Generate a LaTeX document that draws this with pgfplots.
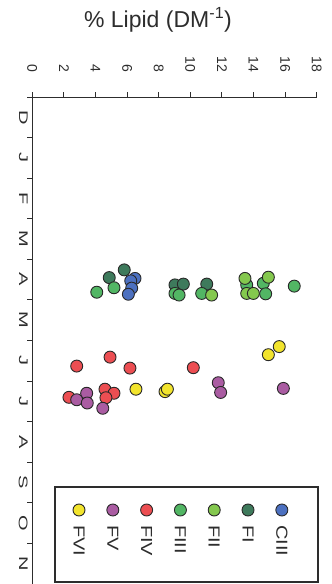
\documentclass[border=0pt]{standalone}
\usepackage{fontspec}
\setmainfont{Liberation Sans}
\usepackage{graphicx}
\usepackage{pgfplots}
\pgfplotsset{compat=1.18}
\definecolor{axiscol}{RGB}{45,45,45}
\definecolor{edgecol}{RGB}{40,40,40}
\definecolor{cFVI}{RGB}{242,228,45}
\definecolor{cFV}{RGB}{170,92,162}
\definecolor{cFIV}{RGB}{236,78,82}
\definecolor{cFIII}{RGB}{82,182,100}
\definecolor{cFII}{RGB}{132,200,78}
\definecolor{cFI}{RGB}{62,122,92}
\definecolor{cCIII}{RGB}{76,112,192}
\pgfplotsset{
  dot/.style={only marks, mark=*, mark size=6bp,
    mark options={draw=edgecol, line width=0.9bp, fill=#1}},
}
\newcommand{\sx}[2]{\scalebox{#1}[1]{#2}}
\begin{document}
\begin{tikzpicture}
\begin{axis}[
  name=main,
  scale only axis, width=284.4bp, height=487bp,
  xmin=0, xmax=18, ymin=0, ymax=12, y dir=reverse,
  axis x line*=top, axis y line*=left,
  axis line style={line width=1bp, draw=axiscol},
  tick style={line width=0.9bp, draw=axiscol},
  tick align=outside, major tick length=5bp,
  xtick={0,2,...,18},
  /pgf/number format/assume math mode=true,
  xticklabel style={rotate=-90, anchor=east, inner sep=0pt,
    font=\fontsize{14bp}{16bp}\selectfont, text=axiscol},
  xticklabel shift=20bp,
  ytick={0,1,...,12}, yticklabels={},
  extra y ticks={0.5,1.5,...,11.5},
  extra y tick labels={\sx{1.6}{D},\sx{1.6}{J},\sx{1.6}{F},\sx{1.6}{M},\sx{1.6}{A},\sx{1.6}{M},\sx{1.6}{J},\sx{1.6}{J},\sx{1.6}{A},\sx{1.6}{S},\sx{1.6}{O},\sx{1.6}{N}},
  extra y tick style={major tick length=0pt,
    yticklabel style={rotate=-90, anchor=north, inner sep=0pt,
      font=\fontsize{12.5bp}{14bp}\selectfont, text=axiscol}},
  yticklabel shift=4.5bp,
  title={\% Lipid (DM\textsuperscript{-1})},
  title style={at={(0.442,1)}, anchor=base, yshift=63.7bp,
    font=\fontsize{23bp}{26bp}\selectfont, text=axiscol, inner sep=0pt},
]
% FI
\addplot[dot=cFI] coordinates {
 (4.87,4.45) (5.82,4.26) (9.03,4.63) (9.56,4.61) (11.04,4.61)};
% FIII
\addplot[dot=cFIII] coordinates {
 (4.08,4.81) (5.17,4.70) (9.03,4.84) (9.29,4.88) (10.72,4.84) (13.57,4.63) (14.62,4.59) (14.77,4.85) (16.58,4.66)};
% FII
\addplot[dot=cFII] coordinates {
 (11.35,4.88) (13.46,4.47) (13.57,4.84) (13.99,4.84) (14.94,4.44)};
% CIII
\addplot[dot=cCIII] coordinates {
 (6.5,4.47) (6.23,4.53) (6.29,4.71) (6.08,4.86)};
% FIV
\addplot[dot=cFIV] coordinates {
 (2.81,6.63) (4.92,6.41) (6.18,6.68) (10.19,6.67) (2.32,7.40) (4.60,7.20) (5.17,7.30) (4.66,7.41)};
% FV
\addplot[dot=cFV] coordinates {
 (2.81,7.46) (3.44,7.30) (3.48,7.54) (4.46,7.67) (11.77,7.04) (11.92,7.28) (15.89,7.18)};
% FVI
\addplot[dot=cFVI] coordinates {
 (6.56,7.20) (8.40,7.26) (8.55,7.20) (14.94,6.35) (15.63,6.15)};
\end{axis}
% legend drawn as a small axis
\begin{axis}[
  name=leg, at={(main.south east)}, anchor=south east, xshift=1.3bp, yshift=2bp,
  scale only axis, width=263bp, height=95bp,
  xmin=0.29, xmax=8.07, ymin=0, ymax=95, clip=false,
  axis line style={line width=1.2bp, draw=axiscol},
  ytick=\empty, xtick={1,...,7},
  xtick style={draw=none},
  xticklabels={\sx{1.25}{FVI},\sx{1.25}{FV},\sx{1.25}{FIV},\sx{1.25}{FIII},\sx{1.25}{FII},\sx{1.25}{FI},\sx{1.25}{CIII}},
  xticklabel style={rotate=-90, anchor=west, inner sep=0pt,
    font=\fontsize{16bp}{18bp}\selectfont, text=axiscol},
  xticklabel shift=-57bp,
]
\addplot[dot=cFVI] coordinates {(1,72)};
\addplot[dot=cFV] coordinates {(2,72)};
\addplot[dot=cFIV] coordinates {(3,72)};
\addplot[dot=cFIII] coordinates {(4,72)};
\addplot[dot=cFII] coordinates {(5,72)};
\addplot[dot=cFI] coordinates {(6,72)};
\addplot[dot=cCIII] coordinates {(7,72)};
\end{axis}
\pgfresetboundingbox
\path[use as bounding box] ([shift={(-32.3bp,97bp)}]main.north west) rectangle ([shift={(15.3bp,0bp)}]main.south east);
\end{tikzpicture}
\end{document}
